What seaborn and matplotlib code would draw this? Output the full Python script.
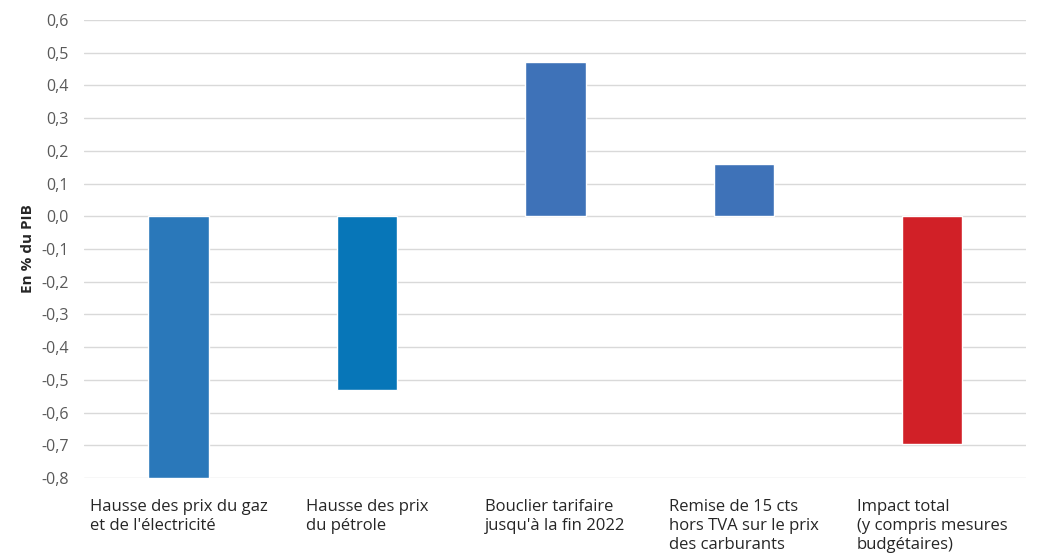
import numpy as np
import pandas as pd
import seaborn as sns
import matplotlib.pyplot as plt
from matplotlib.ticker import FuncFormatter

categories = [
    "Hausse des prix du gaz\net de l'électricité",
    "Hausse des prix\ndu pétrole",
    "Bouclier tarifaire\njusqu'à la fin 2022",
    "Remise de 15 cts\nhors TVA sur le prix\ndes carburants",
    "Impact total\n(y compris mesures\nbudgétaires)",
]
values = [-0.80, -0.53, 0.47, 0.16, -0.695]
colors = ["#2A78BA", "#0776B8", "#3E72B8", "#3E72B8", "#D12027"]

df = pd.DataFrame({"cat": categories, "val": values})

sns.set_style("white")
plt.rcParams["font.family"] = ["Open Sans", "DejaVu Sans"]

fig, ax = plt.subplots(figsize=(10.4, 5.54), dpi=100)
fig.subplots_adjust(left=0.081, right=0.987, top=0.964, bottom=0.137)

sns.barplot(data=df, x="cat", y="val", hue="cat", palette=colors,
            width=0.32, legend=False, ax=ax, saturation=1)

ax.set_ylim(-0.8, 0.6)
ax.set_yticks(np.arange(-0.8, 0.61, 0.1))
ax.yaxis.set_major_formatter(FuncFormatter(lambda v, p: f"{v:.1f}".replace(".", ",").replace("-0,0", "0,0")))
ax.grid(axis="y", color="#d9d9d9", linewidth=1)
ax.set_axisbelow(True)
for s in ax.spines.values():
    s.set_visible(False)

ax.set_xlabel("")
ax.set_ylabel("En % du PIB", fontsize=11, fontweight="bold", color="#262626", labelpad=5)
ax.tick_params(axis="y", length=0, labelsize=11.5, labelcolor="#595959", pad=11)
ax.tick_params(axis="x", length=0, pad=15)
for lab in ax.get_xticklabels():
    lab.set_fontsize(12)
    lab.set_color("#262626")
    lab.set_multialignment("left")
    lab.set_verticalalignment("top")
    lab.set_linespacing(1.25)

fig.savefig("out.png", dpi=100)
